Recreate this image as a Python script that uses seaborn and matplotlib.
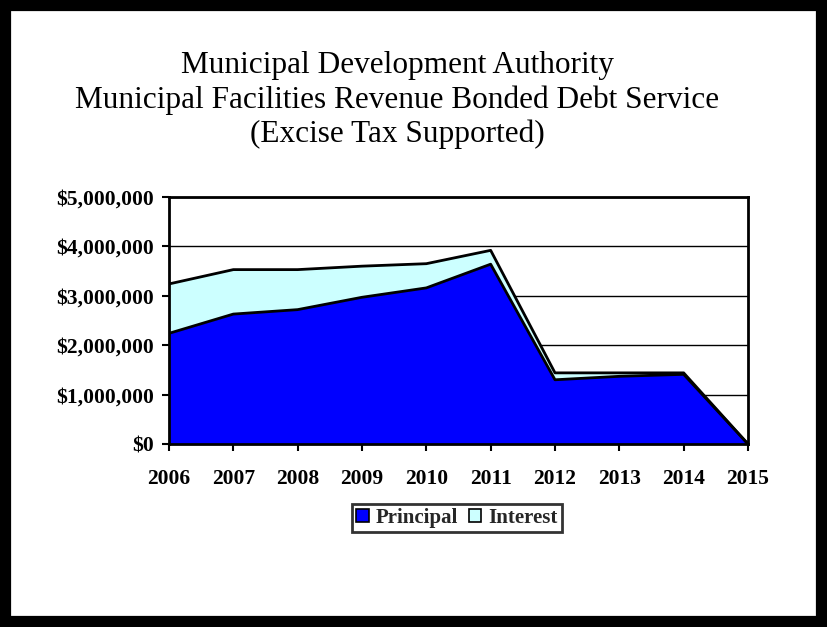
import matplotlib
matplotlib.use("Agg")
import matplotlib.pyplot as plt
import seaborn as sns
import pandas as pd
from matplotlib.patches import Rectangle
from matplotlib.ticker import FuncFormatter, MultipleLocator

years = [2006, 2007, 2008, 2009, 2010, 2011, 2012, 2013, 2014, 2015]
principal = [2240000, 2630000, 2720000, 2970000, 3160000, 3640000, 1300000, 1370000, 1410000, 0]
interest = [1000000, 900000, 810000, 630000, 490000, 280000, 140000, 70000, 30000, 0]
title_lines = ["Municipal Development Authority",
               "Municipal Facilities Revenue Bonded Debt Service",
               "(Excise Tax Supported)"]
series_names = ["Principal", "Interest"]
colors = ["#0000FF", "#CCFFFF"]

df = pd.DataFrame({"year": years, "Principal": principal, "Interest": interest})
df["Total"] = df["Principal"] + df["Interest"]

sns.set_theme(style="white")
plt.rcParams["font.family"] = ["Liberation Serif", "DejaVu Serif"]

fig = plt.figure(figsize=(8.27, 6.27), dpi=100)
ax = fig.add_axes([169/827, 1-444/627, (748-169)/827, (444-197)/627])

ax.fill_between(df["year"], 0, df["Principal"], color=colors[0], lw=0, zorder=2)
ax.fill_between(df["year"], df["Principal"], df["Total"], color=colors[1], lw=0, zorder=2)
sns.lineplot(data=df, x="year", y="Principal", ax=ax, color="black", lw=2, zorder=3)
sns.lineplot(data=df, x="year", y="Total", ax=ax, color="black", lw=2, zorder=3)

ax.set_xlim(2006, 2015)
ax.set_ylim(0, 5000000)
ax.set_xticks(years)
ax.set_xticklabels([str(y) for y in years])
ax.yaxis.set_major_locator(MultipleLocator(1000000))
ax.yaxis.set_major_formatter(FuncFormatter(lambda v, p: "${:,.0f}".format(v)))
ax.grid(axis="y", color="black", lw=1, zorder=1)
ax.set_axisbelow(True)
ax.set_xlabel("")
ax.set_ylabel("")
for s in ax.spines.values():
    s.set_color("black")
    s.set_linewidth(2)
    s.set_zorder(4)
ax.tick_params(axis="both", which="major", direction="out", length=5, width=1.5,
               color="black", left=True, bottom=True, labelsize=15.5)
ax.tick_params(axis="y", pad=6)
ax.tick_params(axis="x", pad=13)
for lab in ax.get_xticklabels() + ax.get_yticklabels():
    lab.set_fontweight("bold")
    lab.set_color("black")

ys = [73, 108, 142]
for t, y in zip(title_lines, ys):
    fig.text(397/827, 1 - y/627, t, ha="center", va="baseline", fontsize=22.5, color="black")

handles = [Rectangle((0, 0), 1, 1, facecolor=c, edgecolor="black", lw=1.2) for c in colors]
leg = fig.legend(handles, series_names, loc="center", bbox_to_anchor=(457/827, 1 - 518/627),
                 ncol=2, frameon=True, fancybox=False, handlelength=0.6, handleheight=0.6,
                 handletextpad=0.35, columnspacing=0.5, borderpad=0.2, borderaxespad=0,
                 prop={"weight": "bold", "size": 15})
leg.get_frame().set_edgecolor("black")
leg.get_frame().set_linewidth(2)

fig.patches.append(Rectangle((0, 0), 1, 1, transform=fig.transFigure, fill=False,
                             edgecolor="black", lw=16, zorder=10))

fig.savefig("out.png", dpi=100)
